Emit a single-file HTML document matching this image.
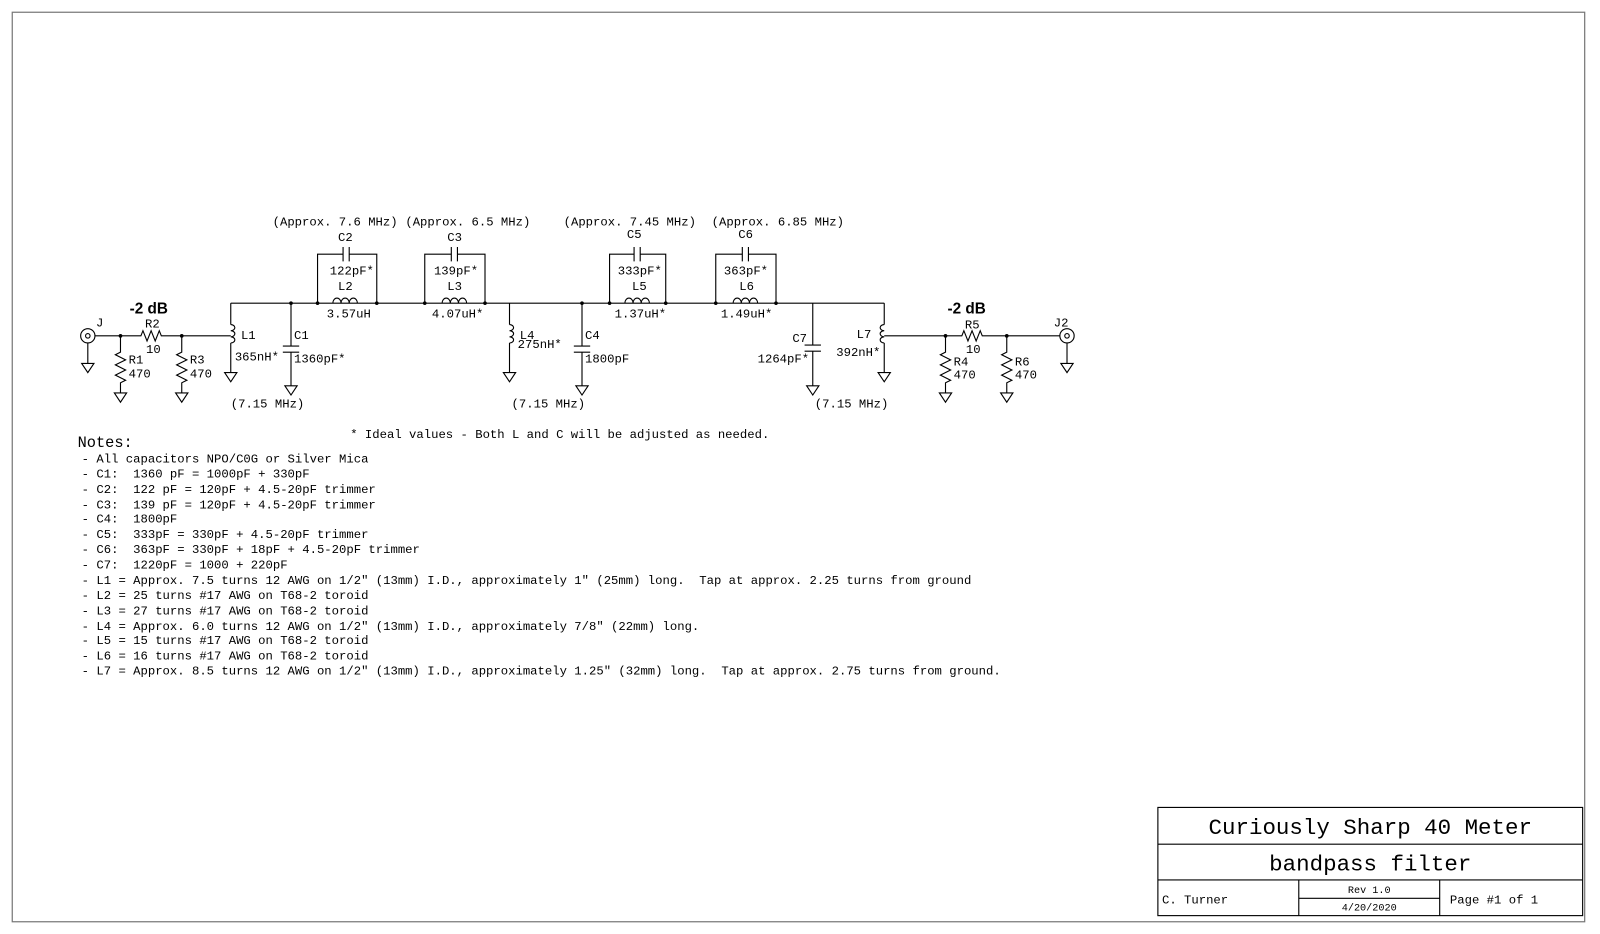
<!DOCTYPE html>
<html><head><meta charset="utf-8"><style>
html,body{margin:0;padding:0;background:#fff;}
svg{display:block;}
text{font-family:"Liberation Mono",monospace;font-size:12px;fill:#000;white-space:pre;}
.b{font-family:"Liberation Sans",sans-serif;font-weight:bold;font-size:15px;}
</style></head><body>
<svg width="1600" height="934" viewBox="0 0 1567 915" preserveAspectRatio="none" xmlns="http://www.w3.org/2000/svg" xml:space="preserve">
<rect x="12" y="12" width="1540" height="891" fill="none" stroke="#777" stroke-width="1.2"/>
<g stroke="#000" stroke-width="1.1" fill="none">
<circle cx="86" cy="329" r="7"/><circle cx="86" cy="329" r="2.2"/>
<path d="M86 336V356M80 356H92L86 365Z"/>
<path d="M93 329H138l2 -5 4 10 4 -10 4 10 4 -10 2 5H226"/>
<path d="M118 329V345l-5 2.5 10 5 -10 5 10 5 -10 5 10 5 -5 2.5V385M112 385H124L118 394Z"/>
<path d="M178 329V345l-5 2.5 10 5 -10 5 10 5 -10 5 10 5 -5 2.5V385M172 385H184L178 394Z"/>
<path d="M226 297H866"/>
<path d="M226 297V318M226 336V365M220 365H232L226 374Z"/>
<path d="M226 318a4 3 0 1 1 0 6a4 3 0 1 1 0 6a4 3 0 1 1 0 6"/>
<path d="M285 297V339M277 339H293M277 345H293M285 345V378M279 378H291L285 387Z"/>
<path d="M311 297V249H336M342 249H369V297M336 242V256M342 242V256"/>
<path d="M326 297a4 5 0 1 1 8 0a4 5 0 1 1 8 0a4 5 0 1 1 8 0"/>
<path d="M416 297V249H442M448 249H475V297M442 242V256M448 242V256"/>
<path d="M433 297a4 5 0 1 1 8 0a4 5 0 1 1 8 0a4 5 0 1 1 8 0"/>
<path d="M499 297V318M499 336V365M493 365H505L499 374Z"/>
<path d="M499 318a4 3 0 1 1 0 6a4 3 0 1 1 0 6a4 3 0 1 1 0 6"/>
<path d="M570 297V339M562 339H578M562 345H578M570 345V378M564 378H576L570 387Z"/>
<path d="M597 297V249H621M627 249H652V297M621 242V256M627 242V256"/>
<path d="M612 297a4 5 0 1 1 8 0a4 5 0 1 1 8 0a4 5 0 1 1 8 0"/>
<path d="M701 297V249H727M733 249H760V297M727 242V256M733 242V256"/>
<path d="M718 297a4 5 0 1 1 8 0a4 5 0 1 1 8 0a4 5 0 1 1 8 0"/>
<path d="M796 297V338M788 338H804M788 344H804M796 344V378M790 378H802L796 387Z"/>
<path d="M866 297V318M866 336V365M860 365H872L866 374Z"/>
<path d="M866 318a4 3 0 1 0 0 6a4 3 0 1 0 0 6a4 3 0 1 0 0 6"/>
<path d="M866 329H942l2 -5 4 10 4 -10 4 10 4 -10 2 5H1038"/>
<path d="M926 329V345l-5 2.5 10 5 -10 5 10 5 -10 5 10 5 -5 2.5V385M920 385H932L926 394Z"/>
<path d="M986 329V345l-5 2.5 10 5 -10 5 10 5 -10 5 10 5 -5 2.5V385M980 385H992L986 394Z"/>
<circle cx="1045" cy="329" r="7"/><circle cx="1045" cy="329" r="2.2"/>
<path d="M1045 336V356M1039 356H1051L1045 365Z"/>
<rect x="1134" y="791" width="416" height="106"/>
<path d="M1134 827H1550M1134 862H1550M1272 862V897M1410 862V897M1272 880H1410"/>
</g>
<g fill="#000">
<circle cx="118" cy="329" r="1.8"/><circle cx="178" cy="329" r="1.8"/>
<circle cx="285" cy="297" r="1.8"/><circle cx="311" cy="297" r="1.8"/><circle cx="369" cy="297" r="1.8"/>
<circle cx="416" cy="297" r="1.8"/><circle cx="475" cy="297" r="1.8"/><circle cx="570" cy="297" r="1.8"/>
<circle cx="597" cy="297" r="1.8"/><circle cx="652" cy="297" r="1.8"/><circle cx="701" cy="297" r="1.8"/>
<circle cx="760" cy="297" r="1.8"/><circle cx="926" cy="329" r="1.8"/><circle cx="986" cy="329" r="1.8"/>
</g>
<text class="b" x="127" y="307">-2 dB</text>
<text class="b" x="928" y="307">-2 dB</text>
<text x="94" y="320">J</text>
<text x="142" y="321">R2</text><text x="143" y="346">10</text>
<text x="126" y="356">R1</text><text x="126" y="370">470</text>
<text x="186" y="356">R3</text><text x="186" y="370">470</text>
<text x="236" y="332">L1</text><text x="230" y="353">365nH*</text>
<text x="288" y="332">C1</text><text x="288" y="355">1360pF*</text>
<text x="267" y="221">(Approx. 7.6 MHz)</text>
<text x="397" y="221">(Approx. 6.5 MHz)</text>
<text x="552" y="221">(Approx. 7.45 MHz)</text>
<text x="697" y="221">(Approx. 6.85 MHz)</text>
<text x="331" y="236">C2</text><text x="323" y="269">122pF*</text><text x="331" y="284">L2</text><text x="320" y="311">3.57uH</text>
<text x="438" y="236">C3</text><text x="425" y="269">139pF*</text><text x="438" y="284">L3</text><text x="423" y="311">4.07uH*</text>
<text x="614" y="233">C5</text><text x="605" y="269">333pF*</text><text x="619" y="284">L5</text><text x="602" y="311">1.37uH*</text>
<text x="723" y="233">C6</text><text x="709" y="269">363pF*</text><text x="724" y="284">L6</text><text x="706" y="311">1.49uH*</text>
<text x="509" y="332">L4</text><text x="507" y="341">275nH*</text>
<text x="573" y="332">C4</text><text x="573" y="355">1800pF</text>
<text x="776" y="335">C7</text><text x="742" y="355">1264pF*</text>
<text x="839" y="331">L7</text><text x="819" y="349">392nH*</text>
<text x="945" y="322">R5</text><text x="946" y="346">10</text>
<text x="934" y="358">R4</text><text x="934" y="371">470</text>
<text x="994" y="358">R6</text><text x="994" y="371">470</text>
<text x="1032" y="320">J2</text>
<text x="226" y="399">(7.15 MHz)</text><text x="501" y="399">(7.15 MHz)</text><text x="798" y="399">(7.15 MHz)</text>
<text x="343" y="429">* Ideal values - Both L and C will be adjusted as needed.</text>
<text x="76" y="438" style="font-size:15px">Notes:</text>
<g>
<text x="80" y="453">- All capacitors NPO/C0G or Silver Mica</text>
<text x="80" y="468">- C1:  1360 pF = 1000pF + 330pF</text>
<text x="80" y="483">- C2:  122 pF = 120pF + 4.5-20pF trimmer</text>
<text x="80" y="498">- C3:  139 pF = 120pF + 4.5-20pF trimmer</text>
<text x="80" y="512">- C4:  1800pF</text>
<text x="80" y="527">- C5:  333pF = 330pF + 4.5-20pF trimmer</text>
<text x="80" y="542">- C6:  363pF = 330pF + 18pF + 4.5-20pF trimmer</text>
<text x="80" y="557">- C7:  1220pF = 1000 + 220pF</text>
<text x="80" y="572">- L1 = Approx. 7.5 turns 12 AWG on 1/2" (13mm) I.D., approximately 1" (25mm) long.  Tap at approx. 2.25 turns from ground</text>
<text x="80" y="587">- L2 = 25 turns #17 AWG on T68-2 toroid</text>
<text x="80" y="602">- L3 = 27 turns #17 AWG on T68-2 toroid</text>
<text x="80" y="617">- L4 = Approx. 6.0 turns 12 AWG on 1/2" (13mm) I.D., approximately 7/8" (22mm) long.</text>
<text x="80" y="631">- L5 = 15 turns #17 AWG on T68-2 toroid</text>
<text x="80" y="646">- L6 = 16 turns #17 AWG on T68-2 toroid</text>
<text x="80" y="661">- L7 = Approx. 8.5 turns 12 AWG on 1/2" (13mm) I.D., approximately 1.25" (32mm) long.  Tap at approx. 2.75 turns from ground.</text>
</g>
<text x="1342" y="817" text-anchor="middle" style="font-size:22px">Curiously Sharp 40 Meter</text>
<text x="1342" y="853" text-anchor="middle" style="font-size:22px">bandpass filter</text>
<text x="1138" y="885">C. Turner</text>
<text x="1341" y="875" text-anchor="middle" style="font-size:10px">Rev 1.0</text>
<text x="1341" y="892" text-anchor="middle" style="font-size:10px">4/20/2020</text>
<text x="1420" y="885">Page #1 of 1</text>
</svg>
</body></html>
